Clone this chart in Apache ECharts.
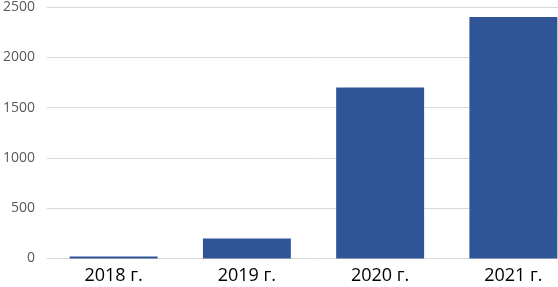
<!DOCTYPE html>
<html><head><meta charset="utf-8">
<script src="https://cdn.jsdelivr.net/npm/echarts@6/dist/echarts.min.js"></script>
<style>html,body{margin:0;padding:0;background:#fff;overflow:hidden;width:558px;height:287px}#c{width:580px;height:287px}</style>
</head><body><div id="c"></div>
<script>
var categories = ['2018 г.', '2019 г.', '2020 г.', '2021 г.'];
var values = [20, 200, 1700, 2400];
var yTicks = [0, 500, 1000, 1500, 2000, 2500];

var chart = echarts.init(document.getElementById('c'), null, {renderer: 'canvas'});
chart.setOption({
  animation: false,
  grid: {left: 43, right: 0, top: 5.5, bottom: 28.5, containLabel: false},
  xAxis: {
    type: 'category', data: categories,
    axisLine: {show: true, lineStyle: {color: '#d9d9d9', width: 1}},
    axisTick: {show: false},
    axisLabel: {color: '#000', fontSize: 18, fontFamily: 'Open Sans', margin: 8}
  },
  yAxis: {
    type: 'value', min: yTicks[0], max: yTicks[yTicks.length - 1], interval: 500,
    axisLine: {show: false}, axisTick: {show: false},
    splitLine: {lineStyle: {color: '#d9d9d9', width: 1}},
    axisLabel: {color: '#595959', fontSize: 14, fontFamily: 'Open Sans', margin: 12,
      formatter: function (v) { return String(v); }}
  },
  series: [{
    type: 'bar', data: values, barWidth: '66%',
    itemStyle: {color: '#2F5597'}
  }]
});
</script></body></html>
